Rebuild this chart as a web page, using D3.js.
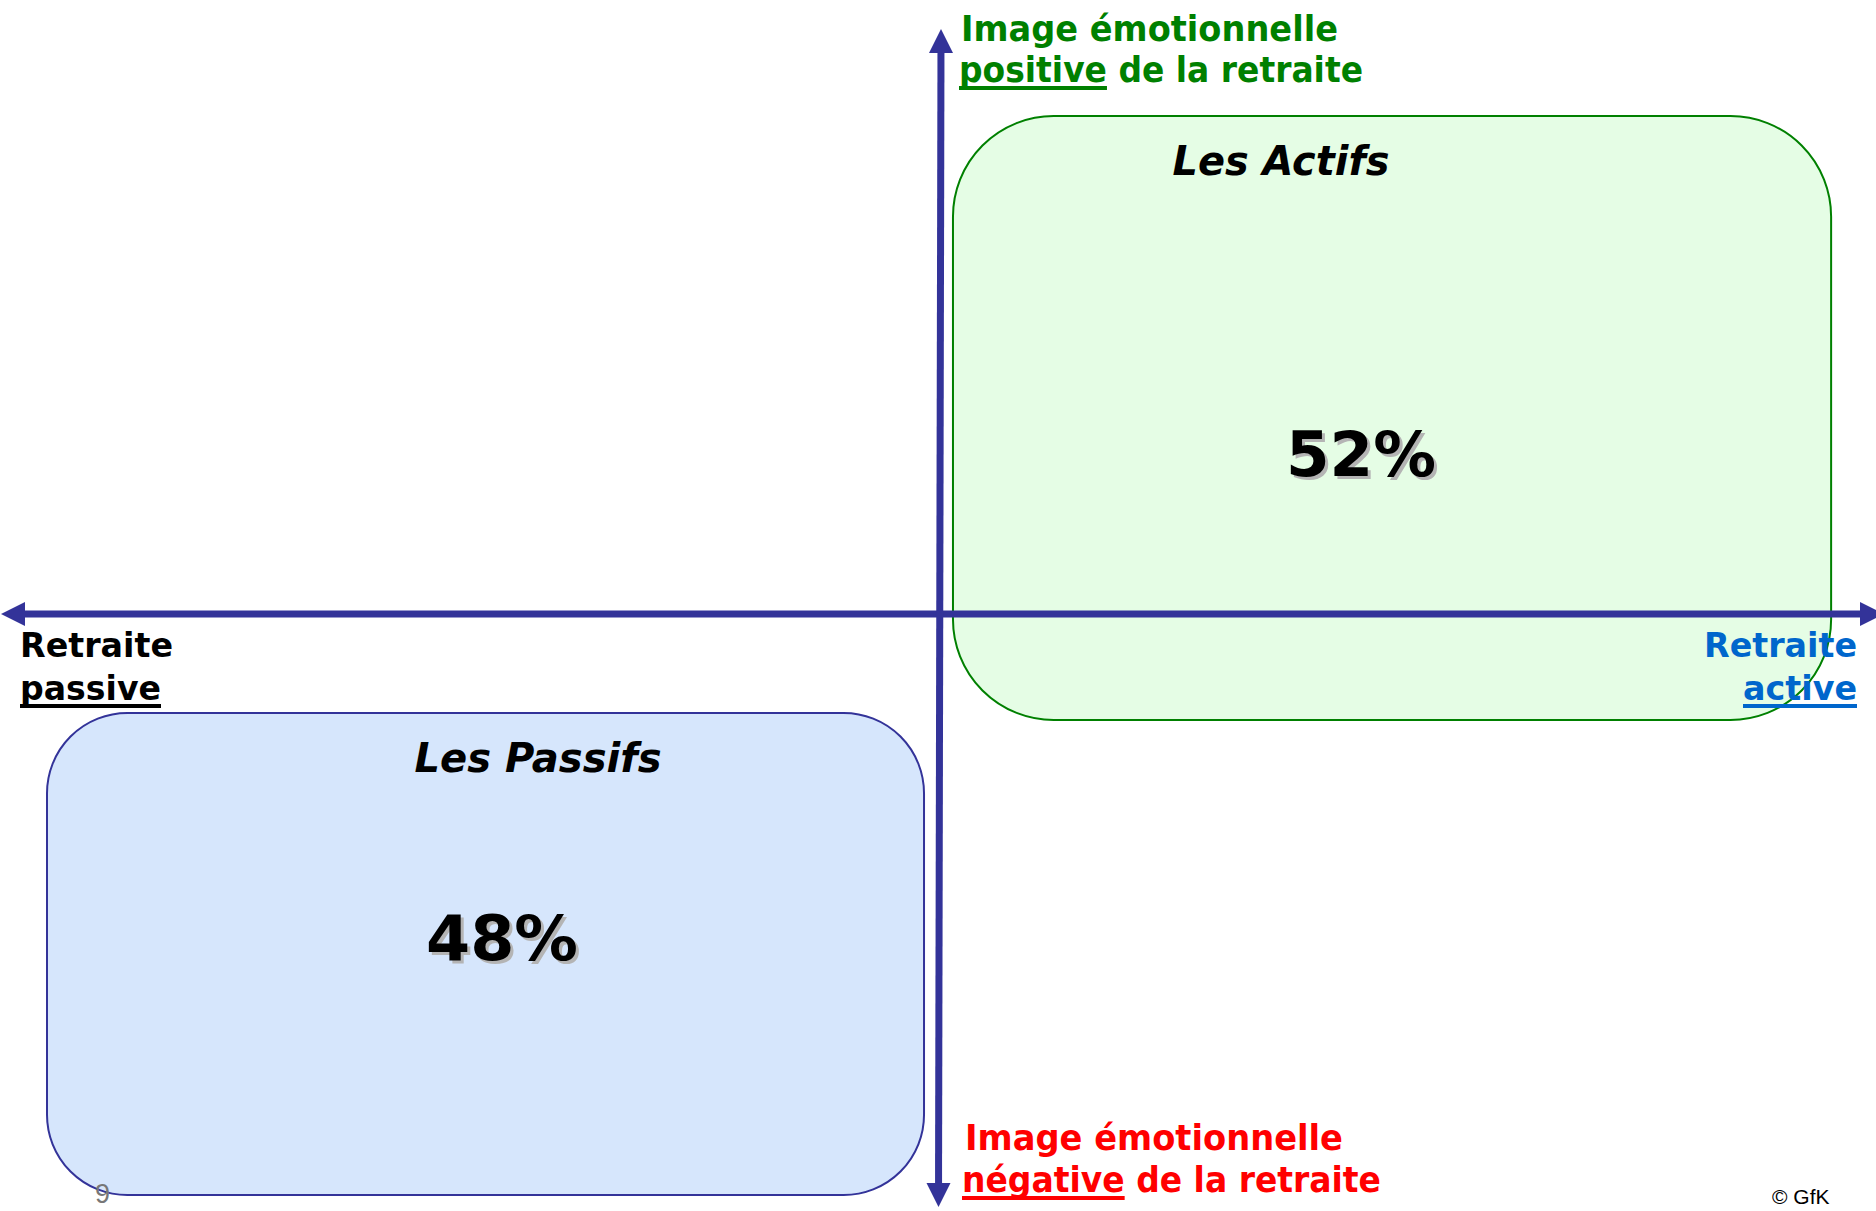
<!DOCTYPE html>
<html>
<head>
<meta charset="utf-8">
<script src="https://cdn.jsdelivr.net/npm/d3@7"></script>
<style>
  html, body { margin: 0; padding: 0; background: #fff; }
  svg { display: block; }
</style>
</head>
<body>
<script>
// ---------- data ----------
const segmentNames = ["Les Actifs", "Les Passifs"];
const segmentShares = [52, 48];
const verticalAxisLabels = [
  ["Image émotionnelle", "positive", " de la retraite"],
  ["Image émotionnelle", "négative", " de la retraite"]
];
const horizontalAxisLabels = [
  ["Retraite", "passive"],
  ["Retraite", "active"]
];
const pageNumber = "9";
const copyright = "© GfK";

// ---------- layout ----------
const W = 1876, H = 1211;
const font = "'DejaVu Sans', Verdana, sans-serif";
const axisColor = "#333399";

// scales: conceptual axis domain [-1, 1] on both dimensions
const x = d3.scaleLinear().domain([-1, 1]).range([0, 1880]);
const y = d3.scaleLinear().domain([-1, 1]).range([1228, 0]);

const boxes = [
  { name: segmentNames[0], share: segmentShares[0],
    x0: 0.0138, x1: 0.948, y0: 0.811, y1: -0.1726,
    fill: "#e5fde5", stroke: "#008000",
    titleX: 1281, titleY: 175, titleLen: 217,
    pctX: 1361, pctY: 476, pctLen: 150 },
  { name: segmentNames[1], share: segmentShares[1],
    x0: -0.95, x1: -0.0170, y0: -0.1612, y1: -0.9463,
    fill: "#d6e6fc", stroke: "#333399",
    titleX: 538, titleY: 772, titleLen: 247,
    pctX: 502, pctY: 960, pctLen: 152 }
];

const svg = d3.select("body").append("svg")
  .attr("width", W).attr("height", H)
  .attr("viewBox", `0 0 ${W} ${H}`);

// ---------- boxes ----------
boxes.forEach(b => {
  const bx = x(b.x0), bw = x(b.x1) - x(b.x0);
  const by = y(b.y0), bh = y(b.y1) - y(b.y0);
  const r = Math.min(bw, bh) / 6;
  svg.append("rect")
    .attr("x", bx).attr("y", by).attr("width", bw).attr("height", bh)
    .attr("rx", r).attr("ry", r)
    .attr("fill", b.fill).attr("stroke", b.stroke).attr("stroke-width", 2);
});

// ---------- axes ----------
const ah = 24, aw = 12;
// horizontal
svg.append("line")
  .attr("x1", x(-1) + 10).attr("x2", x(1) - 10)
  .attr("y1", y(0)).attr("y2", y(0))
  .attr("stroke", axisColor).attr("stroke-width", 7);
svg.append("path")
  .attr("d", `M${x(-1) + 1},${y(0)} L${x(-1) + 1 + ah},${y(0) - aw} L${x(-1) + 1 + ah},${y(0) + aw} Z`)
  .attr("fill", axisColor);
svg.append("path")
  .attr("d", `M${x(1) + 4},${y(0)} L${x(1) + 4 - ah},${y(0) - aw} L${x(1) + 4 - ah},${y(0) + aw} Z`)
  .attr("fill", axisColor);
// vertical (slightly slanted in the original)
const topX = 941, botX = 938.5, topY = 29, botY = 1207;
svg.append("line")
  .attr("x1", topX).attr("x2", botX)
  .attr("y1", topY + 10).attr("y2", botY - 10)
  .attr("stroke", axisColor).attr("stroke-width", 7);
svg.append("path")
  .attr("d", `M${topX},${topY} L${topX - aw},${topY + ah} L${topX + aw},${topY + ah} Z`)
  .attr("fill", axisColor);
svg.append("path")
  .attr("d", `M${botX},${botY} L${botX - aw},${botY - ah} L${botX + aw},${botY - ah} Z`)
  .attr("fill", axisColor);

// ---------- helper for text with underline ----------
function addText(opts) {
  const t = svg.append("text")
    .attr("x", opts.x).attr("y", opts.y)
    .attr("font-family", opts.family || font)
    .attr("font-weight", opts.weight || "bold")
    .attr("font-style", opts.style || "normal")
    .attr("font-size", opts.size)
    .attr("fill", opts.color)
    .attr("text-anchor", opts.anchor || "start")
    .text(opts.text);
  if (opts.len) t.attr("textLength", opts.len).attr("lengthAdjust", "spacingAndGlyphs");
  return t;
}
function underline(textSel, from, to, uy, color) {
  const node = textSel.node();
  const a = node.getExtentOfChar(from);
  const b = node.getExtentOfChar(to);
  svg.append("rect")
    .attr("x", a.x).attr("y", uy - 2)
    .attr("width", b.x + b.width - a.x).attr("height", 4)
    .attr("fill", color);
}

// ---------- vertical axis labels ----------
const green = "#008000", red = "#ff0000", blue = "#0066cc";
addText({ x: 961, y: 41, size: 36, color: green, text: verticalAxisLabels[0][0], len: 377 });
const pos2 = addText({ x: 959, y: 82, size: 36, color: green,
  text: verticalAxisLabels[0][1] + verticalAxisLabels[0][2], len: 404 });
underline(pos2, 0, verticalAxisLabels[0][1].length - 1, 88, green);

addText({ x: 965, y: 1150, size: 36, color: red, text: verticalAxisLabels[1][0], len: 378 });
const neg2 = addText({ x: 962, y: 1192, size: 36, color: red,
  text: verticalAxisLabels[1][1] + verticalAxisLabels[1][2], len: 419 });
underline(neg2, 0, verticalAxisLabels[1][1].length - 1, 1198, red);

// ---------- horizontal axis labels ----------
addText({ x: 20, y: 657, size: 33, color: "#000", text: horizontalAxisLabels[0][0], len: 153 });
const pas = addText({ x: 20, y: 700, size: 33, color: "#000", text: horizontalAxisLabels[0][1], len: 141 });
underline(pas, 0, horizontalAxisLabels[0][1].length - 1, 706, "#000");

addText({ x: 1857, y: 657, size: 33, color: blue, anchor: "end", text: horizontalAxisLabels[1][0], len: 153 });
const act = addText({ x: 1857, y: 700, size: 33, color: blue, anchor: "end", text: horizontalAxisLabels[1][1], len: 114 });
underline(act, 0, horizontalAxisLabels[1][1].length - 1, 706, blue);

// ---------- segment titles & shares ----------
boxes.forEach(b => {
  addText({ x: b.titleX, y: b.titleY, size: 41, color: "#000", style: "italic",
    anchor: "middle", text: b.name, len: b.titleLen });
  const pct = d3.format("d")(b.share) + "%";
  addText({ x: b.pctX + 3, y: b.pctY + 3, size: 62, color: "#b4b4b4",
    anchor: "middle", text: pct, len: b.pctLen });
  addText({ x: b.pctX, y: b.pctY, size: 62, color: "#000",
    anchor: "middle", text: pct, len: b.pctLen });
});

// ---------- footer ----------
addText({ x: 95, y: 1203, size: 27, color: "#777", weight: "normal",
  family: "'Liberation Sans', Arial, sans-serif", text: pageNumber });
addText({ x: 1772, y: 1204, size: 21, color: "#000", weight: "normal",
  family: "'Liberation Sans', Arial, sans-serif", text: copyright });
</script>
</body>
</html>
